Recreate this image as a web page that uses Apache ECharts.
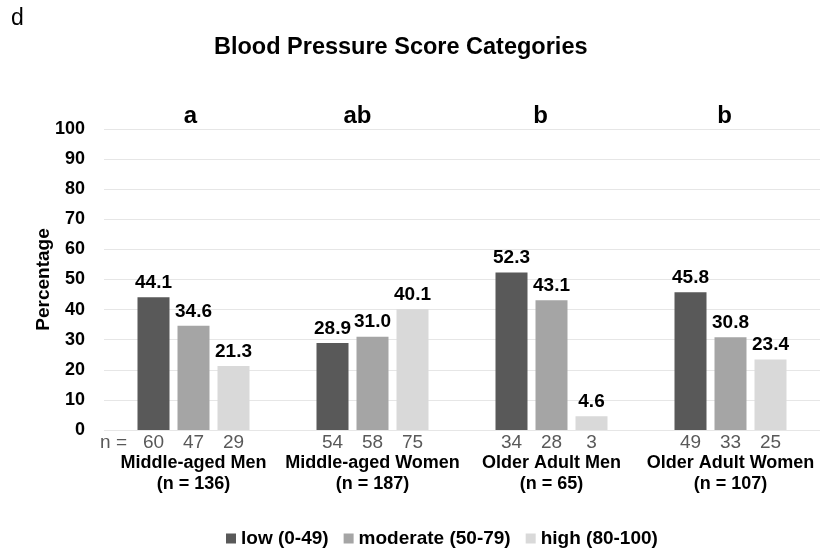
<!DOCTYPE html>
<html>
<head>
<meta charset="utf-8">
<script src="https://cdn.jsdelivr.net/npm/echarts@6/dist/echarts.min.js"></script>
<style>
html,body{margin:0;padding:0;background:#fff;}
#chart{width:820px;height:550px;}
</style>
</head>
<body>
<div id="chart"></div>
<script>
// ---- data ----
var categories = ['Middle-aged Men', 'Middle-aged Women', 'Older Adult Men', 'Older Adult Women'];
var groupTotals = [136, 187, 65, 107];
var sigLetters = ['a', 'ab', 'b', 'b'];
var seriesNames = ['low (0-49)', 'moderate (50-79)', 'high (80-100)'];
var lowPct = [44.1, 28.9, 52.3, 45.8];
var moderatePct = [34.6, 31.0, 43.1, 30.8];
var highPct = [21.3, 40.1, 4.6, 23.4];
var lowN = [60, 54, 34, 49];
var moderateN = [47, 58, 28, 33];
var highN = [29, 75, 3, 25];
var yTicks = [0, 10, 20, 30, 40, 50, 60, 70, 80, 90, 100];

// ---- styles ----
var FONT = '"Liberation Sans", Arial, Helvetica, sans-serif';
var colors = ['#595959', '#a5a5a5', '#d9d9d9'];
var letterShift = [3, 15, 11, 6]; // px nudge to the left for the letters

var chart = echarts.init(document.getElementById('chart'), null, {renderer: 'canvas'});

var letterRich = {};
letterShift.forEach(function (s, i) {
  letterRich['s' + i] = {
    fontSize: 24, fontWeight: 'bold', fontFamily: FONT, color: '#000',
    align: 'center', padding: [0, 2 * s, 0, 0]
  };
});

function barSeries(name, data, color) {
  return {
    name: name,
    type: 'bar',
    data: data,
    barWidth: 32,
    barGap: '25%',
    itemStyle: {color: color},
    label: {
      show: true, position: 'top', distance: 5,
      formatter: function (p) { return p.value.toFixed(1); },
      fontFamily: FONT, fontSize: 19, fontWeight: 'bold', color: '#000'
    },
    emphasis: {disabled: true}
  };
}

var option = {
  animation: false,
  backgroundColor: '#fff',
  textStyle: {fontFamily: FONT},
  title: [
    {
      text: 'Blood Pressure Score Categories',
      left: 209, top: 31,
      textStyle: {fontFamily: FONT, fontSize: 23.5, fontWeight: 'bold', color: '#000'}
    },
    {
      text: 'd',
      left: 6, top: 2,
      textStyle: {fontFamily: FONT, fontSize: 23, fontWeight: 'normal', color: '#000'}
    }
  ],
  legend: {
    data: seriesNames,
    left: 221, top: 524,
    icon: 'rect', itemWidth: 10, itemHeight: 10, itemGap: 15,
    textStyle: {fontFamily: FONT, fontSize: 19, fontWeight: 'bold', color: '#000'}
  },
  grid: {left: 104, top: 129, width: 720, height: 301, containLabel: false},
  xAxis: [
    {
      type: 'category',
      data: categories,
      position: 'bottom',
      axisLine: {show: false},
      axisTick: {show: false},
      splitLine: {show: false},
      axisLabel: {
        interval: 0,
        margin: 2,
        formatter: function (value, idx) {
          var row = '{n|' + lowN[idx] + '}{n|' + moderateN[idx] + '}{n|' + highN[idx] + '}';
          if (idx === 0) row = '{p|n =}' + row + '{p| }';
          return row + '\n{c|' + value + '}\n{c|(n = ' + groupTotals[idx] + ')}';
        },
        rich: {
          p: {fontFamily: FONT, fontSize: 19, color: '#595959', width: 40, align: 'center', lineHeight: 21},
          n: {fontFamily: FONT, fontSize: 19, color: '#595959', width: 40, align: 'center', lineHeight: 21},
          c: {fontFamily: FONT, fontSize: 18, fontWeight: 'bold', color: '#000', align: 'center', lineHeight: 21}
        }
      }
    },
    {
      type: 'category',
      data: categories,
      position: 'top',
      axisLine: {show: false},
      axisTick: {show: false},
      splitLine: {show: false},
      axisLabel: {
        interval: 0,
        margin: 1,
        formatter: function (value, idx) {
          return '{s' + idx + '|' + sigLetters[idx] + '}';
        },
        rich: letterRich
      }
    }
  ],
  yAxis: {
    type: 'value',
    min: yTicks[0],
    max: yTicks[yTicks.length - 1],
    interval: yTicks[1] - yTicks[0],
    name: 'Percentage',
    nameLocation: 'middle',
    nameGap: 51,
    nameMoveOverlap: false,
    nameTextStyle: {fontFamily: FONT, fontSize: 19, fontWeight: 'bold', color: '#000'},
    axisLine: {show: false},
    axisTick: {show: false},
    axisLabel: {margin: 19, fontFamily: FONT, fontSize: 18, fontWeight: 'bold', color: '#000'},
    splitLine: {lineStyle: {color: '#e6e6e6', width: 1}}
  },
  series: [
    barSeries(seriesNames[0], lowPct, colors[0]),
    barSeries(seriesNames[1], moderatePct, colors[1]),
    barSeries(seriesNames[2], highPct, colors[2])
  ]
};

chart.setOption(option);
</script>
</body>
</html>
